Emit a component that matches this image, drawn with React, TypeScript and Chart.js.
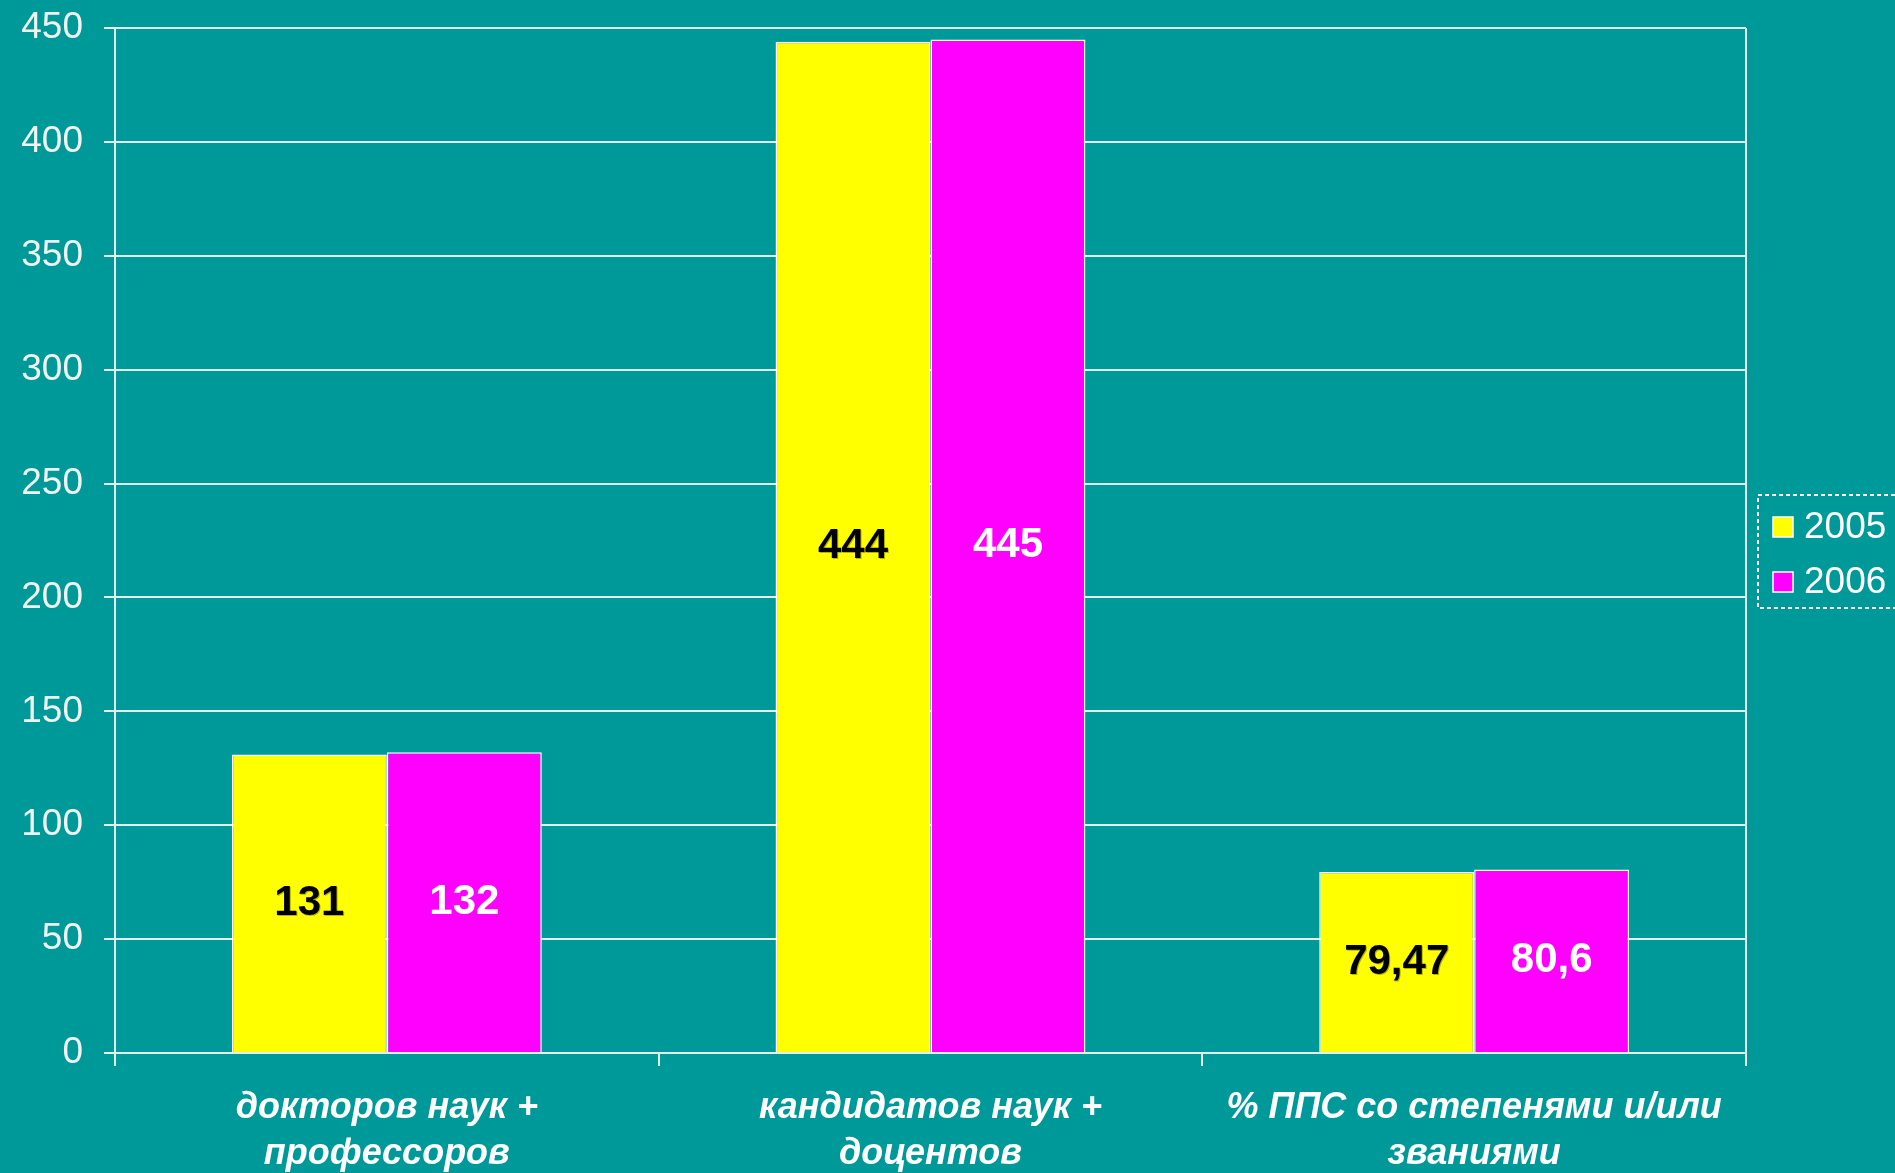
import React, { useEffect, useRef } from "react";
import { Chart, registerables } from "chart.js";

Chart.register(...registerables);

const categories: string[][] = [
  ["докторов наук +", "профессоров"],
  ["кандидатов наук +", "доцентов"],
  ["% ППС со степенями и/или", "званиями"],
];
const seriesNames: string[] = ["2005", "2006"];
const values2005: number[] = [131, 444, 79.47];
const values2006: number[] = [132, 445, 80.6];
const yTicks: number[] = [0, 50, 100, 150, 200, 250, 300, 350, 400, 450];

const BG = "#009999";
const LINE = "#e3efea";
const YELLOW = "#ffff00";
const MAGENTA = "#ff00ff";
const FONT = "'Liberation Sans', Arial, sans-serif";

const fmt = (v: number) => String(v).replace(".", ",");

const bgPlugin = {
  id: "bgFill",
  beforeDraw(chart: any) {
    const { ctx, width, height } = chart;
    ctx.save();
    ctx.fillStyle = BG;
    ctx.fillRect(0, 0, width, height);
    ctx.restore();
  },
};

const extrasPlugin = {
  id: "extras",
  afterDraw(chart: any) {
    const { ctx, chartArea } = chart;
    ctx.save();
    // right border of plot
    ctx.strokeStyle = LINE;
    ctx.lineWidth = 2;
    ctx.beginPath();
    ctx.moveTo(chartArea.right, chartArea.top);
    ctx.lineTo(chartArea.right, chartArea.bottom);
    ctx.stroke();

    // value labels
    const colors = ["#000000", "#ffffff"];
    chart.data.datasets.forEach((ds: any, di: number) => {
      const meta = chart.getDatasetMeta(di);
      meta.data.forEach((bar: any, i: number) => {
        const v = ds.data[i];
        const cy = (bar.y + bar.base) / 2;
        ctx.font = `bold 42px ${FONT}`;
        ctx.textAlign = "center";
        ctx.textBaseline = "middle";
        if (di === 0) {
          ctx.fillStyle = "rgba(90,90,0,0.45)";
          ctx.fillText(fmt(v), bar.x + 1, cy + 1);
        }
        ctx.fillStyle = colors[di];
        ctx.fillText(fmt(v), bar.x, cy);
      });
    });

    // legend
    const lx = 1758;
    const ly = 495;
    const lw = 160;
    const lh = 113;
    ctx.setLineDash([4, 3]);
    ctx.strokeStyle = "#ffffff";
    ctx.lineWidth = 2;
    ctx.strokeRect(lx, ly, lw, lh);
    ctx.setLineDash([]);
    const items = [
      { name: seriesNames[0], color: YELLOW, y: 527 },
      { name: seriesNames[1], color: MAGENTA, y: 582 },
    ];
    items.forEach((it) => {
      ctx.fillStyle = it.color;
      ctx.fillRect(1773, it.y - 10, 20, 20);
      ctx.strokeStyle = "#ffffff";
      ctx.lineWidth = 1.5;
      ctx.strokeRect(1773, it.y - 10, 20, 20);
      ctx.fillStyle = "#ffffff";
      ctx.font = `37px ${FONT}`;
      ctx.textAlign = "left";
      ctx.textBaseline = "middle";
      ctx.fillText(it.name, 1804, it.y + 1);
    });
    ctx.restore();
  },
};

export default function App() {
  const ref = useRef<HTMLCanvasElement | null>(null);

  useEffect(() => {
    document.body.style.margin = "0";
    document.body.style.background = BG;
    if (!ref.current) return;
    const chart = new Chart(ref.current, {
      type: "bar",
      data: {
        labels: categories,
        datasets: [
          {
            label: seriesNames[0],
            data: values2005,
            backgroundColor: YELLOW,
            borderColor: "#ffffff",
            borderWidth: 1.5,
            categoryPercentage: 0.57,
            barPercentage: 1.0,
          },
          {
            label: seriesNames[1],
            data: values2006,
            backgroundColor: MAGENTA,
            borderColor: "#ffffff",
            borderWidth: 1.5,
            categoryPercentage: 0.57,
            barPercentage: 1.0,
          },
        ],
      },
      options: {
        responsive: false,
        animation: false,
        devicePixelRatio: 1,
        layout: { padding: { top: 28, right: 149, bottom: 0, left: 0 } },
        plugins: {
          legend: { display: false },
          tooltip: { enabled: false },
        },
        scales: {
          x: {
            offset: true,
            grid: {
              offset: true,
              drawOnChartArea: false,
              drawTicks: true,
              tickLength: 13,
              color: LINE,
              lineWidth: 2,
            },
            border: { display: true, color: LINE, width: 2 },
            ticks: {
              color: "#ffffff",
              padding: 19,
              maxRotation: 0,
              autoSkip: false,
              font: { family: FONT, size: 36, style: "italic", weight: "bold", lineHeight: 1.28 },
            },
            afterFit: (scale: any) => {
              scale.height = 120;
              scale.paddingLeft = 0;
              scale.paddingRight = 0;
            },
          },
          y: {
            min: 0,
            max: 450,
            afterBuildTicks: (scale: any) => {
              scale.ticks = yTicks.map((v) => ({ value: v }));
            },
            grid: {
              color: LINE,
              lineWidth: 2,
              tickLength: 11,
              drawTicks: true,
            },
            border: { display: true, color: LINE, width: 2 },
            ticks: {
              color: "#f0f4f0",
              padding: 21,
              font: { family: FONT, size: 37 },
            },
            afterFit: (scale: any) => {
              scale.width = 115;
              scale.paddingTop = 0;
              scale.paddingBottom = 0;
            },
          },
        },
      },
      plugins: [bgPlugin, extrasPlugin],
    });
    return () => chart.destroy();
  }, []);

  return (
    <div style={{ position: "absolute", left: 0, top: 0, width: 1895, height: 1173, background: BG }}>
      <canvas ref={ref} width={1895} height={1173} style={{ display: "block", width: 1895, height: 1173 }} />
    </div>
  );
}
